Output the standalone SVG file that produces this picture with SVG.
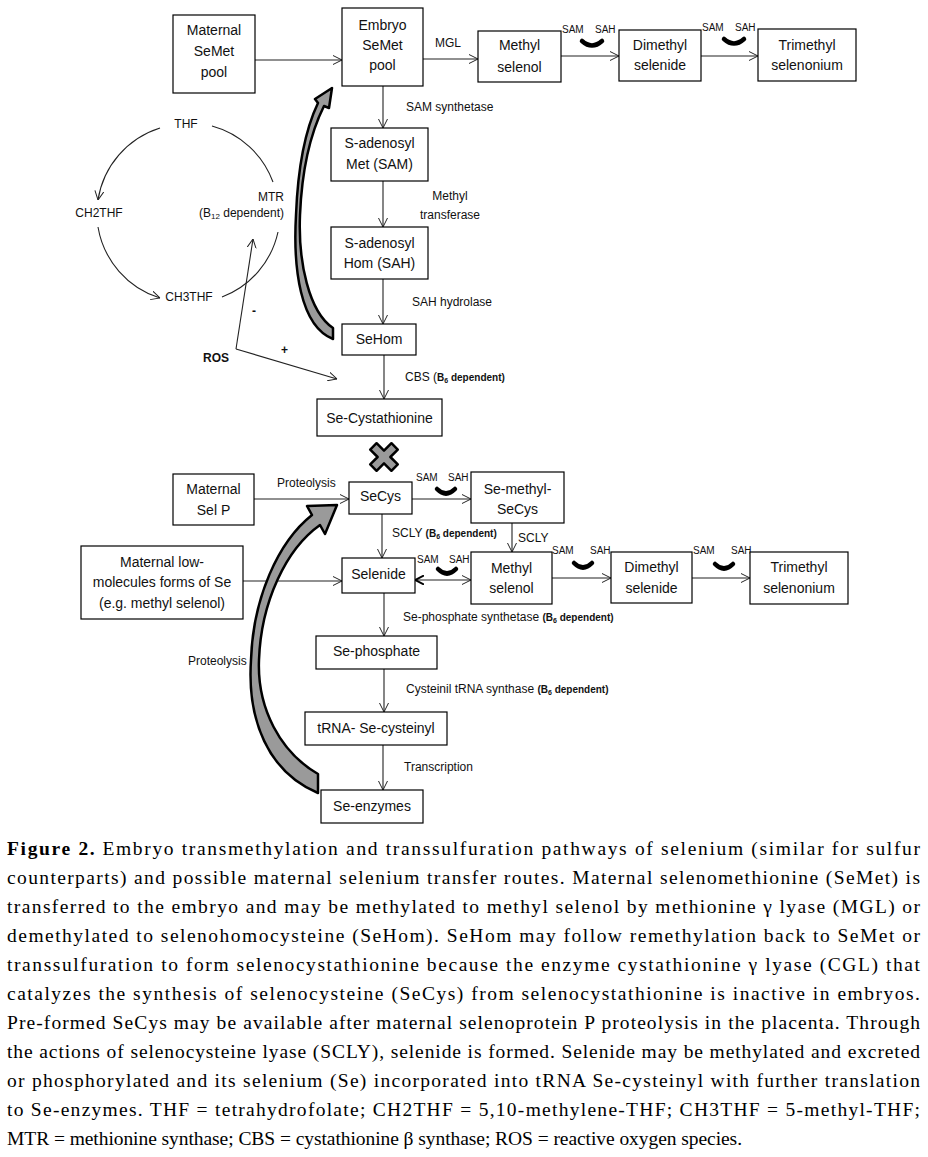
<svg xmlns="http://www.w3.org/2000/svg" width="928" height="1157" viewBox="0 0 928 1157">
<defs>
<style>
.box{fill:#fff;stroke:#000;stroke-width:1.2}
.t{font-family:"Liberation Sans",Arial,sans-serif;font-size:14px;fill:#111;text-anchor:middle}
.l{font-family:"Liberation Sans",Arial,sans-serif;font-size:12px;fill:#111}
.s{font-family:"Liberation Sans",Arial,sans-serif;font-size:10px;fill:#111}
.bd{font-weight:bold;font-size:10px}
.ln{fill:none;stroke:#222;stroke-width:1.1}
.cup{fill:none;stroke:#000;stroke-width:4.5;stroke-linecap:round}
.big{fill:#9a9a9a;stroke:#000;stroke-width:2.5;stroke-linejoin:round}
.cap{font-family:"Liberation Serif","Times New Roman",serif;font-size:19.5px;fill:#000}
</style>
<marker id="ah" viewBox="0 0 10 10" refX="10" refY="5" markerWidth="9" markerHeight="10" orient="auto-start-reverse" markerUnits="userSpaceOnUse">
<path d="M0,0 L10,5 L0,10" fill="none" stroke="#222" stroke-width="1.1"/>
</marker>
<marker id="ahb" viewBox="0 0 10 10" refX="10" refY="5" markerWidth="9" markerHeight="10" orient="auto-start-reverse" markerUnits="userSpaceOnUse">
<path d="M0,0 L10,5 L0,10" fill="none" stroke="#000" stroke-width="2.2"/>
</marker>
</defs>
<rect width="928" height="1157" fill="#fff"/>

<g id="connectors">
<line class="ln" x1="255" y1="60" x2="342" y2="60" marker-end="url(#ah)"/>
<line class="ln" x1="423" y1="59" x2="478" y2="59" marker-end="url(#ah)"/>
<line class="ln" x1="561" y1="56" x2="619" y2="56" marker-end="url(#ah)"/>
<line class="ln" x1="701" y1="56" x2="758" y2="56" marker-end="url(#ah)"/>
<line class="ln" x1="383" y1="86" x2="383" y2="128" marker-end="url(#ah)"/>
<line class="ln" x1="383" y1="181" x2="383" y2="227" marker-end="url(#ah)"/>
<line class="ln" x1="383" y1="279" x2="383" y2="324" marker-end="url(#ah)"/>
<line class="ln" x1="384" y1="355" x2="384" y2="399" marker-end="url(#ah)"/>
<line class="ln" x1="254" y1="499" x2="349" y2="499" marker-end="url(#ah)"/>
<line class="ln" x1="412" y1="499" x2="471" y2="499" marker-end="url(#ah)"/>
<line class="ln" x1="512" y1="523" x2="512" y2="552" marker-end="url(#ah)"/>
<line class="ln" x1="382" y1="514" x2="382" y2="558" marker-end="url(#ah)"/>
<line class="ln" x1="243" y1="581" x2="342" y2="581" marker-end="url(#ah)"/>
<line class="ln" x1="415" y1="580" x2="471" y2="580" marker-start="url(#ahb)" marker-end="url(#ah)"/>
<line class="ln" x1="552" y1="578" x2="611" y2="578" marker-end="url(#ah)"/>
<line class="ln" x1="692" y1="578" x2="750" y2="578" marker-end="url(#ah)"/>
<line class="ln" x1="384" y1="593" x2="384" y2="636" marker-end="url(#ah)"/>
<line class="ln" x1="384" y1="669" x2="384" y2="712" marker-end="url(#ah)"/>
<line class="ln" x1="383" y1="745" x2="383" y2="790" marker-end="url(#ah)"/>
<!-- folate cycle -->
<path class="ln" d="M160,128 A90,90 0 0 0 98,200" marker-end="url(#ah)"/>
<path class="ln" d="M98,227 A90,90 0 0 0 160,298" marker-end="url(#ah)"/>
<path class="ln" d="M222,297 A90,90 0 0 0 278,232"/>
<path class="ln" d="M212,126 A90,90 0 0 1 273,182"/>
<!-- ROS -->
<line class="ln" x1="236" y1="349" x2="253" y2="239" marker-end="url(#ah)"/>
<line class="ln" x1="236" y1="349" x2="337" y2="379" marker-end="url(#ah)"/>
<!-- big curved arrows -->
<path class="big" fill="#777" stroke-width="2.8" d="M333,339 C300,326 293,268 296,215 C298,163 307,126 318,103 L315,99 L332,88 L329,108 L324,106 C312,130 302,167 300,215 C298,262 309,312 333,328 Z"/>
<path class="big" d="M318,793 C268,772 247,720 251,660 C253,598 278,542 312,515 L307,506 L337,505 L325,534 L320,525 C286,549 261,602 259,660 C257,708 280,752 318,774 Z"/>
<!-- cross -->
<polygon class="big" transform="translate(384,457) rotate(45)" points="-4.5,-15 4.5,-15 4.5,-4.5 15,-4.5 15,4.5 4.5,4.5 4.5,15 -4.5,15 -4.5,4.5 -15,4.5 -15,-4.5 -4.5,-4.5"/>
<!-- cups -->
<path class="cup" d="M582,41 Q592,50 602,41"/>
<path class="cup" d="M724,39 Q734,48 744,39"/>
<path class="cup" d="M437,489 Q446,498 455,489"/>
<path class="cup" d="M438,569 Q447,578 456,569"/>
<path class="cup" d="M574,563 Q583,572 592,563"/>
<path class="cup" d="M715,564 Q724,573 733,564"/>
</g>

<g id="labels">
<text class="l" x="435" y="47">MGL</text>
<text class="s" x="562" y="33">SAM</text><text class="s" x="595" y="33">SAH</text>
<text class="s" x="702" y="31">SAM</text><text class="s" x="735" y="31">SAH</text>
<text class="l" x="406" y="111">SAM  synthetase</text>
<text class="l" x="450" y="200" text-anchor="middle">Methyl</text>
<text class="l" x="450" y="219" text-anchor="middle">transferase</text>
<text class="l" x="412" y="306">SAH hydrolase</text>
<text class="l" x="405" y="381" font-size="11">CBS (<tspan class="bd">B<tspan font-size="7" dy="2">6</tspan><tspan dy="-2"> dependent)</tspan></tspan></text>
<text class="l" x="186" y="128" text-anchor="middle">THF</text>
<text class="l" x="99" y="217" text-anchor="middle">CH2THF</text>
<text class="l" x="189" y="301" text-anchor="middle">CH3THF</text>
<text class="l" x="284" y="201" text-anchor="end">MTR</text>
<text class="l" x="284" y="217" text-anchor="end">(B<tspan font-size="8" dy="2">12</tspan><tspan dy="-2"> dependent)</tspan></text>
<text class="l" x="252" y="315" font-weight="bold" font-size="15">-</text>
<text class="l" x="281" y="354" font-weight="bold" font-size="13">+</text>
<text class="l" x="203" y="362" font-weight="bold" font-size="13">ROS</text>
<text class="l" x="277" y="487">Proteolysis</text>
<text class="s" x="416" y="481">SAM</text><text class="s" x="448" y="481">SAH</text>
<text class="l" x="392" y="537">SCLY <tspan class="bd">(B<tspan font-size="7" dy="2">6</tspan><tspan dy="-2"> dependent)</tspan></tspan></text>
<text class="l" x="518" y="542">SCLY</text>
<text class="s" x="417" y="563">SAM</text><text class="s" x="449" y="563">SAH</text>
<text class="s" x="552" y="554">SAM</text><text class="s" x="590" y="554">SAH</text>
<text class="s" x="693" y="554">SAM</text><text class="s" x="731" y="554">SAH</text>
<text class="l" x="403" y="621">Se-phosphate  synthetase <tspan class="bd">(B<tspan font-size="7" dy="2">6</tspan><tspan dy="-2"> dependent)</tspan></tspan></text>
<text class="l" x="406" y="693">Cysteinil  tRNA synthase <tspan class="bd">(B<tspan font-size="7" dy="2">6</tspan><tspan dy="-2"> dependent)</tspan></tspan></text>
<text class="l" x="404" y="771">Transcription</text>
<text class="l" x="188" y="665">Proteolysis</text>
</g>

<g id="maternal-semet"><rect class="box" x="173" y="15" width="82" height="78"/><text class="t" x="214" y="35">Maternal</text><text class="t" x="214" y="56">SeMet</text><text class="t" x="214" y="77">pool</text></g>
<g id="embryo-semet"><rect class="box" x="342" y="8" width="81" height="78"/><text class="t" x="382.5" y="30">Embryo</text><text class="t" x="382.5" y="50">SeMet</text><text class="t" x="382.5" y="70">pool</text></g>
<g id="methyl-selenol-top"><rect class="box" x="478" y="31" width="83" height="51"/><text class="t" x="519.5" y="50">Methyl</text><text class="t" x="519.5" y="72">selenol</text></g>
<g id="dimethyl-selenide-top"><rect class="box" x="619" y="30" width="82" height="51"/><text class="t" x="660" y="50">Dimethyl</text><text class="t" x="660" y="70">selenide</text></g>
<g id="trimethyl-selenonium-top"><rect class="box" x="758" y="29" width="98" height="52"/><text class="t" x="807" y="50">Trimethyl</text><text class="t" x="807" y="70">selenonium</text></g>
<g id="sam"><rect class="box" x="331" y="128" width="97" height="53"/><text class="t" x="379.5" y="148">S-adenosyl</text><text class="t" x="379.5" y="169">Met (SAM)</text></g>
<g id="sah"><rect class="box" x="331" y="227" width="97" height="52"/><text class="t" x="379.5" y="248">S-adenosyl</text><text class="t" x="379.5" y="268">Hom (SAH)</text></g>
<g id="sehom"><rect class="box" x="342" y="324" width="74" height="31"/><text class="t" x="379" y="344">SeHom</text></g>
<g id="se-cystathionine"><rect class="box" x="317" y="399" width="125" height="37"/><text class="t" x="379.5" y="423">Se-Cystathionine</text></g>
<g id="maternal-selp"><rect class="box" x="173" y="474" width="81" height="51"/><text class="t" x="213.5" y="494">Maternal</text><text class="t" x="213.5" y="515">Sel P</text></g>
<g id="secys"><rect class="box" x="349" y="482" width="63" height="32"/><text class="t" x="380.5" y="501">SeCys</text></g>
<g id="se-methyl-secys"><rect class="box" x="471" y="472" width="93" height="51"/><text class="t" x="517.5" y="494">Se-methyl-</text><text class="t" x="517.5" y="514">SeCys</text></g>
<g id="maternal-low"><rect class="box" x="81" y="546" width="162" height="73"/><text class="t" x="162" y="567">Maternal low-</text><text class="t" x="162" y="587">molecules forms of Se</text><text class="t" x="162" y="608">(e.g. methyl selenol)</text></g>
<g id="selenide"><rect class="box" x="342" y="558" width="73" height="35"/><text class="t" x="378.5" y="579">Selenide</text></g>
<g id="methyl-selenol-bottom"><rect class="box" x="471" y="552" width="81" height="52"/><text class="t" x="511.5" y="573">Methyl</text><text class="t" x="511.5" y="593">selenol</text></g>
<g id="dimethyl-selenide-bottom"><rect class="box" x="611" y="552" width="81" height="51"/><text class="t" x="651.5" y="572">Dimethyl</text><text class="t" x="651.5" y="593">selenide</text></g>
<g id="trimethyl-selenonium-bottom"><rect class="box" x="750" y="552" width="98" height="52"/><text class="t" x="799" y="572">Trimethyl</text><text class="t" x="799" y="593">selenonium</text></g>
<g id="se-phosphate"><rect class="box" x="316" y="636" width="121" height="33"/><text class="t" x="376.5" y="656">Se-phosphate</text></g>
<g id="trna"><rect class="box" x="305" y="712" width="142" height="33"/><text class="t" x="376" y="733">tRNA- Se-cysteinyl</text></g>
<g id="se-enzymes"><rect class="box" x="321" y="790" width="102" height="33"/><text class="t" x="372" y="811">Se-enzymes</text></g>

<g id="caption">
<text class="cap" x="7" y="855" textLength="913"><tspan font-weight="bold">Figure 2.</tspan><tspan dx="6">Embryo transmethylation and transsulfuration pathways of selenium (similar for sulfur</tspan></text>
<text class="cap" x="7" y="884" textLength="913">counterparts) and possible maternal selenium transfer routes. Maternal selenomethionine (SeMet) is</text>
<text class="cap" x="7" y="913" textLength="913">transferred to the embryo and may be methylated to methyl selenol by methionine γ lyase (MGL) or</text>
<text class="cap" x="7" y="942" textLength="913">demethylated to selenohomocysteine (SeHom). SeHom may follow remethylation back to SeMet or</text>
<text class="cap" x="7" y="971" textLength="913">transsulfuration to form selenocystathionine because the enzyme cystathionine γ lyase (CGL) that</text>
<text class="cap" x="7" y="1000" textLength="913">catalyzes the synthesis of selenocysteine (SeCys) from selenocystathionine is inactive in embryos.</text>
<text class="cap" x="7" y="1029" textLength="913">Pre-formed SeCys may be available after maternal selenoprotein P proteolysis in the placenta. Through</text>
<text class="cap" x="7" y="1058" textLength="913">the actions of selenocysteine lyase (SCLY), selenide is formed. Selenide may be methylated and excreted</text>
<text class="cap" x="7" y="1087" textLength="913">or phosphorylated and its selenium (Se) incorporated into tRNA Se-cysteinyl with further translation</text>
<text class="cap" x="7" y="1116" textLength="913">to Se-enzymes. THF = tetrahydrofolate; CH2THF = 5,10-methylene-THF; CH3THF = 5-methyl-THF;</text>
<text class="cap" x="7" y="1145" textLength="735">MTR = methionine synthase; CBS = cystathionine β synthase; ROS = reactive oxygen species.</text>
</g>
</svg>
